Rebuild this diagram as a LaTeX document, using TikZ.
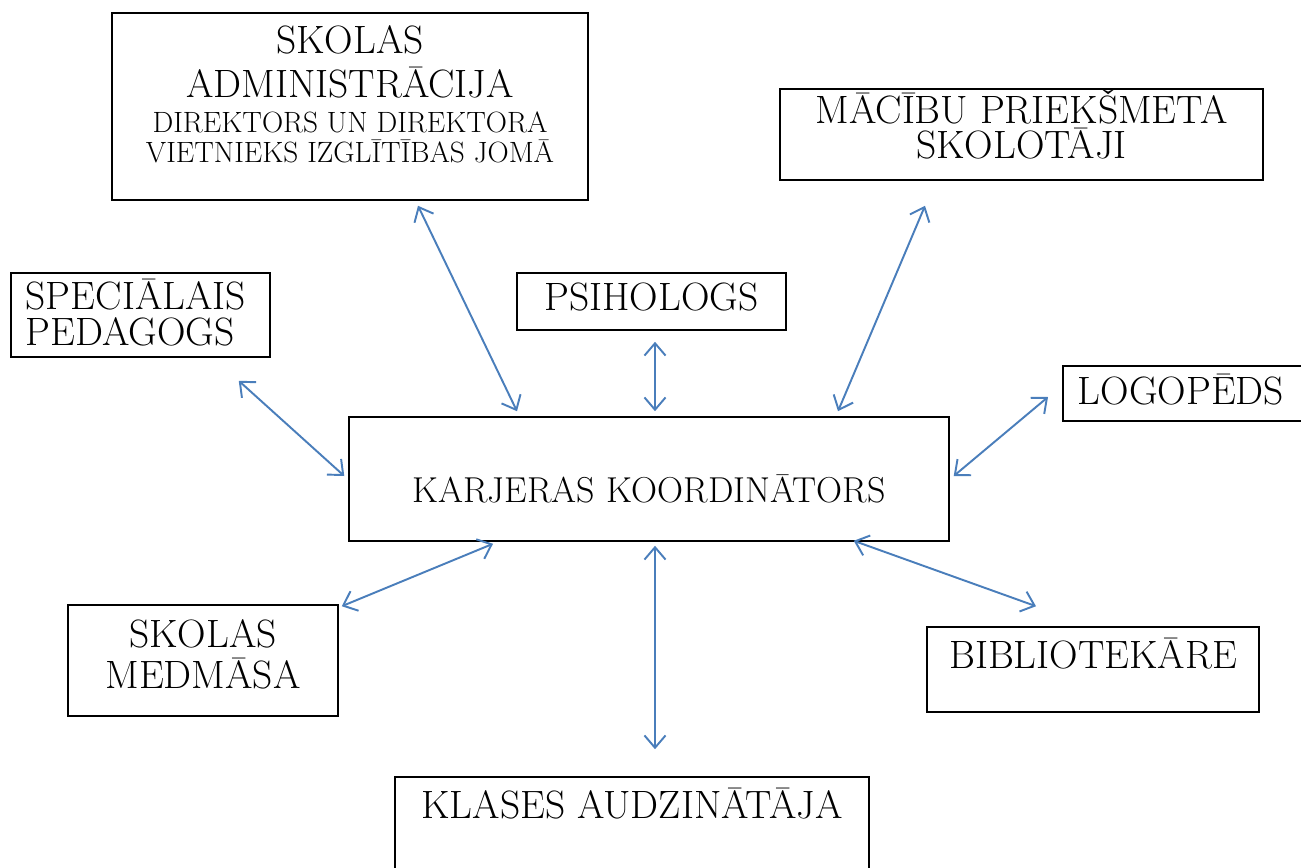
\documentclass[tikz,border=0pt]{standalone}
\usepackage{fontspec}
\usepackage{xcolor}
\usetikzlibrary{arrows.meta}
\definecolor{linkblue}{RGB}{74,126,187}
\newcommand{\bigtxt}{\fontsize{22.5}{22}\selectfont}
\newcommand{\midtxt}{\fontsize{20.5}{22}\selectfont}
\newcommand{\smalltxt}{\fontsize{16.7}{22}\selectfont}

\begin{document}
\begin{tikzpicture}[x=0.02cm,y=-0.02cm,
  box/.style={draw,line width=0.9pt,inner sep=0pt,align=center,font=\bigtxt},
  link/.style={linkblue,line width=1.1pt,{Straight Barb[length=7pt,width=12pt]}-{Straight Barb[length=7pt,width=12pt]}}]
%\draw[step=50,gray,very thin] (0,0) grid (1300,868); %background grid
\clip (0,0) rectangle (1301,868);
\node[box,font=\smalltxt,anchor=base,minimum width=9.52cm,text height=3cm,text depth=0.74cm] (admin) at (350,163)
  {{\bigtxt SKOLAS}\\[3pt]{\bigtxt ADMINISTRĀCIJA}\\[-2.2pt]DIREKTORS UN DIREKTORA\\[-4.4pt]VIETNIEKS IZGLĪTĪBAS JOMĀ};
\node[box,anchor=base,minimum width=9.66cm,text height=1.4cm,text depth=0.42cm] (macibu) at (1021.5,159)
  {MĀCĪBU PRIEKŠMETA\\[-1.6pt]SKOLOTĀJI};
\node[box,anchor=base west,align=left,inner xsep=0.3cm,text width=4.58cm,text height=0.72cm,text depth=0.96cm] (specped) at (10,309)
  {SPECIĀLAIS\\[-1.5pt]PEDAGOGS};
\node[box,anchor=base,minimum width=5.38cm,text height=0.74cm,text depth=0.4cm] (psih) at (651.5,310) {PSIHOLOGS};
\node[box,anchor=base west,align=left,inner xsep=0.3cm,text width=4.6cm,text height=0.76cm,text depth=0.34cm] (logo) at (1062,404) {LOGOPĒDS};
\node[box,font=\midtxt,anchor=base,minimum width=12cm,text height=1.7cm,text depth=0.78cm] (karj) at (649,502) {KARJERAS KOORDINĀTORS};
\node[box,anchor=base,minimum width=5.4cm,text height=1.66cm,text depth=0.56cm] (medm) at (203,688)
  {SKOLAS\\[1.2pt]MEDMĀSA};
\node[box,anchor=base,minimum width=6.64cm,text height=0.82cm,text depth=0.88cm] (bibl) at (1093,668) {BIBLIOTEKĀRE};
\node[box,anchor=base,minimum width=9.48cm,text height=0.82cm,text depth=1.64cm] (klas) at (632,818) {KLASES AUDZINĀTĀJA};

\draw[link] ([shift={(68,5)}]admin.south) -- ([shift={(-132,-5)}]karj.north);
\draw[link] ([shift={(3.5,11)}]psih.south) -- ([shift={(6,-5)}]karj.north);
\draw[link] ([shift={(-96.5,25)}]macibu.south) -- ([shift={(189,-5)}]karj.north);
\draw[link] ([shift={(98.5,23)}]specped.south) -- ([shift={(-4,-3)}]karj.west);
\draw[link] ([shift={(-14,3.5)}]logo.west) -- ([shift={(4,-3)}]karj.east);
\draw[link] ([shift={(3,2)}]medm.north east) -- ([shift={(-156,2)}]karj.south);
\draw[link] ([shift={(6,4)}]karj.south) -- ([shift={(23,-27)}]klas.north);
\draw[link] ([shift={(-96,-1)}]karj.south east) -- ([shift={(-57,-20)}]bibl.north);
\end{tikzpicture}
\end{document}
